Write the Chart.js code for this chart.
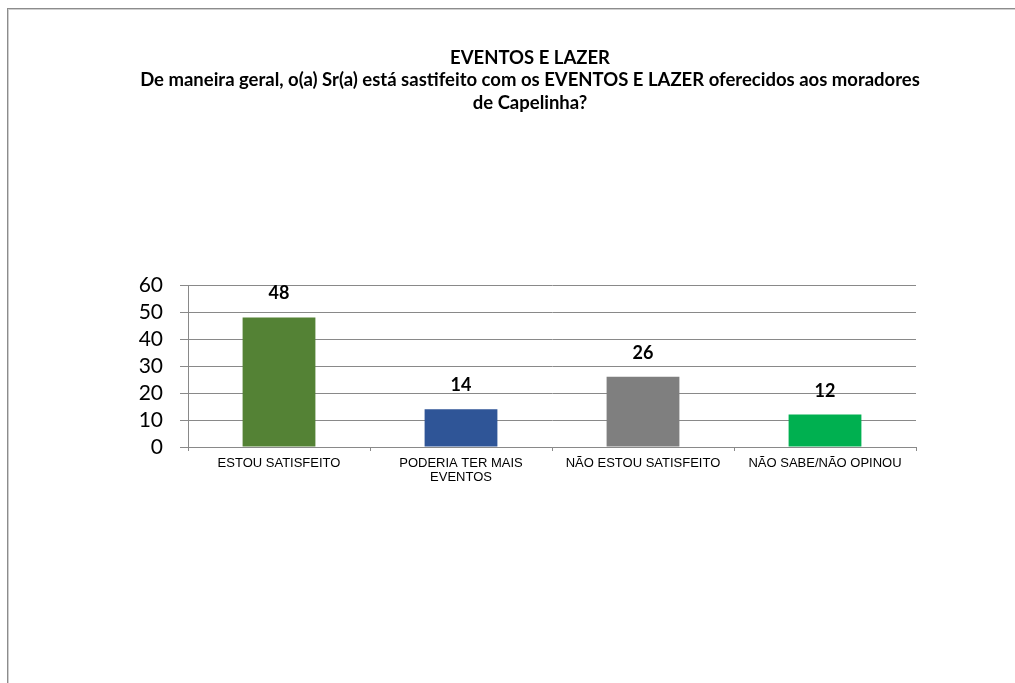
<!DOCTYPE html>
<html lang="pt-BR">
<head>
<meta charset="utf-8">
<title>Eventos e Lazer</title>
<script src="https://cdn.jsdelivr.net/npm/chart.js@4.4.1/dist/chart.umd.min.js"></script>
<style>
  html, body { margin: 0; padding: 0; background: #fff; }
  body { width: 1015px; height: 683px; position: relative; overflow: hidden; }
  .moldura {
    position: absolute; left: 7px; top: 8px; width: 1100px; height: 800px;
    border-top: 1px solid #8c8c8c; border-left: 1px solid #8c8c8c;
    box-shadow: inset 1px 1px 0 #cfcfcf;
  }
  #grafico { position: absolute; left: 0; top: 0; }
</style>
</head>
<body>
<div class="moldura"></div>
<canvas id="grafico" width="1015" height="683"></canvas>
<script>
  const titulo = [
    'EVENTOS E LAZER',
    'De maneira geral, o(a) Sr(a) está sastifeito com os EVENTOS E LAZER oferecidos aos moradores',
    'de Capelinha?',
  ];
  const categorias = [
    'ESTOU SATISFEITO',
    ['PODERIA TER MAIS', 'EVENTOS'],
    'NÃO ESTOU SATISFEITO',
    'NÃO SABE/NÃO OPINOU',
  ];
  const valores = [48, 14, 26, 12];
  const cores = ['#548235', '#2f5597', '#7f7f7f', '#00b050'];
  const escalaY = { min: 0, max: 60, passo: 10 };

  const corGrade = '#898989';

  // tamanho do título ajustado para a segunda linha ocupar ~780px
  const medidor = document.createElement('canvas').getContext('2d');
  medidor.font = 'bold 100px Lato';
  const larguraRef = medidor.measureText(titulo[1]).width;
  const tamanhoTitulo = Math.round(100 * 780 / larguraRef * 10) / 10;

  // título em três linhas, centrado sobre a área do gráfico
  const tituloCentral = {
    id: 'tituloCentral',
    afterDraw(chart) {
      const ctx = chart.ctx;
      ctx.save();
      ctx.font = 'bold ' + tamanhoTitulo + 'px Lato';
      ctx.fillStyle = '#000';
      ctx.textAlign = 'center';
      ctx.textBaseline = 'alphabetic';
      titulo.forEach((linha, i) => {
        ctx.fillText(linha, 530, 64 + i * 22.3);
      });
      ctx.restore();
    },
  };

  // rótulos de valor acima de cada barra
  const rotulosValor = {
    id: 'rotulosValor',
    afterDatasetsDraw(chart) {
      const ctx = chart.ctx;
      const meta = chart.getDatasetMeta(0);
      ctx.save();
      ctx.font = 'bold 18px Lato';
      ctx.fillStyle = '#000';
      ctx.textAlign = 'center';
      ctx.textBaseline = 'alphabetic';
      meta.data.forEach((barra, i) => {
        ctx.fillText(String(valores[i]), barra.x, barra.y - 18);
      });
      ctx.restore();
    },
  };

  new Chart(document.getElementById('grafico'), {
    type: 'bar',
    data: {
      labels: categorias,
      datasets: [{
        data: valores,
        backgroundColor: cores,
        borderWidth: 0,
        categoryPercentage: 1,
        barPercentage: 0.4,
      }],
    },
    options: {
      responsive: false,
      devicePixelRatio: 1,
      animation: false,
      layout: { padding: { left: 0, right: 99, top: 285, bottom: 0 } },
      plugins: {
        legend: { display: false },
        tooltip: { enabled: false },
        title: { display: false },
      },
      scales: {
        y: {
          min: escalaY.min,
          max: escalaY.max,
          ticks: {
            stepSize: escalaY.passo,
            autoSkip: false,
            color: '#000',
            padding: 17,
            font: { family: 'Lato', size: 21, lineHeight: 1 },
          },
          grid: { color: corGrade, tickLength: 8, lineWidth: 1 },
          border: { display: true, color: corGrade },
          afterFit(scale) { scale.width = 188; },
        },
        x: {
          ticks: {
            color: '#000',
            padding: 6,
            maxRotation: 0,
            autoSkip: false,
            font: { family: 'Liberation Sans', size: 13, lineHeight: 1.03 },
          },
          grid: { color: corGrade, offset: true, drawOnChartArea: false, tickLength: 4 },
          border: { display: true, color: corGrade },
          afterFit(scale) { scale.height = 683 - 447; },
        },
      },
    },
    plugins: [rotulosValor, tituloCentral],
  });
</script>
</body>
</html>
